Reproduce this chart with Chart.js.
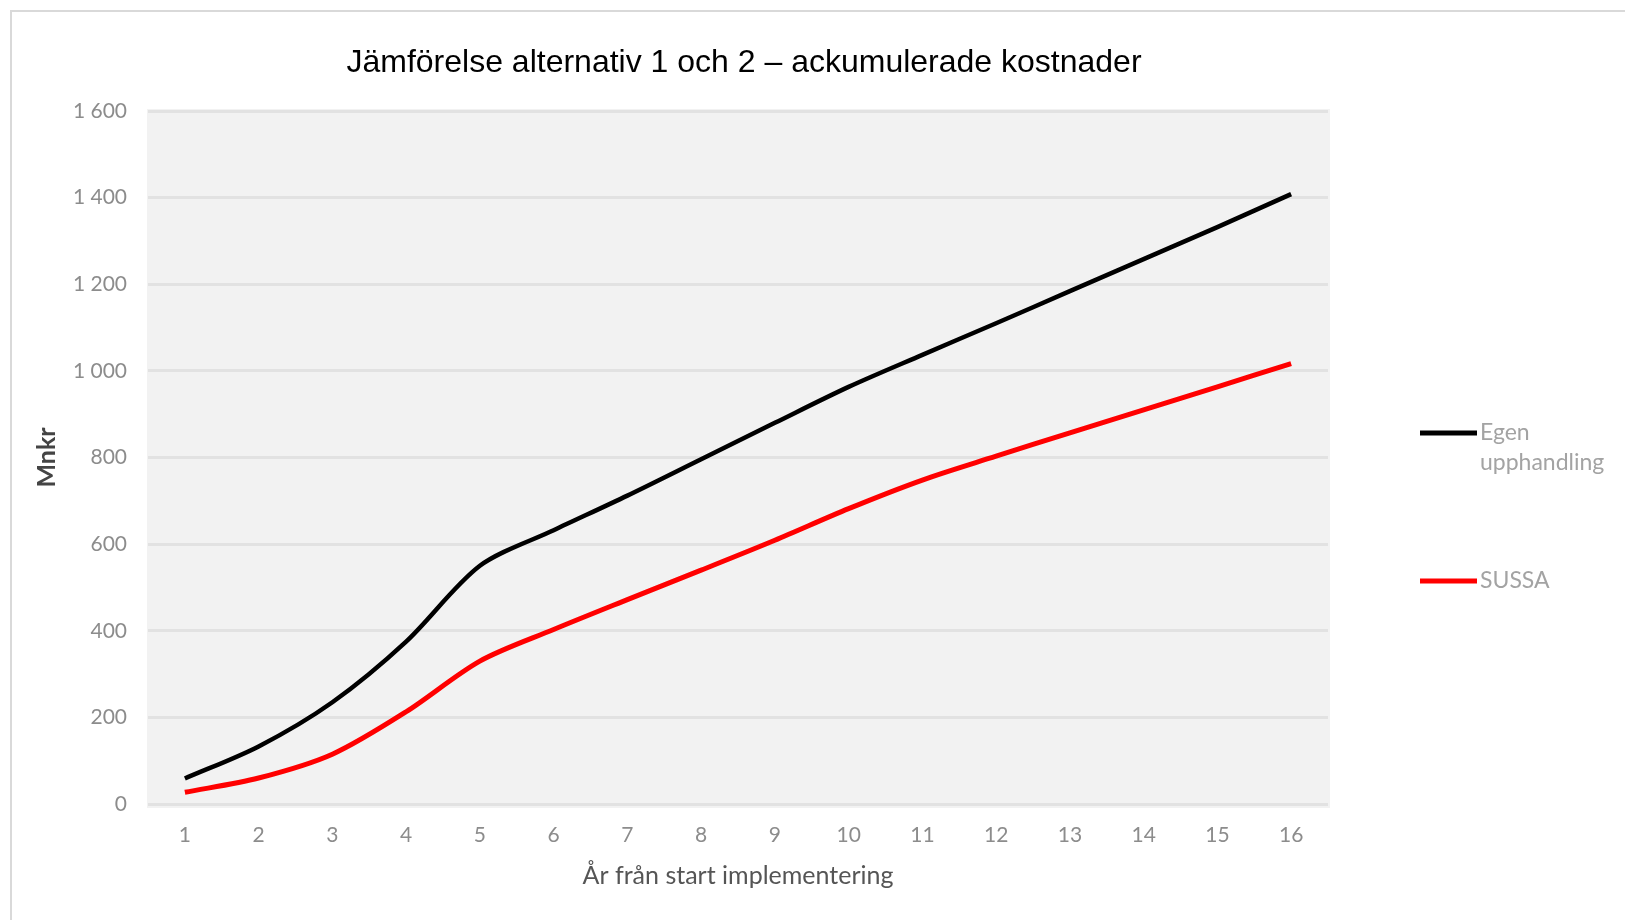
<!DOCTYPE html>
<html>
<head>
<meta charset="utf-8">
<script src="https://cdn.jsdelivr.net/npm/chart.js@4.4.1/dist/chart.umd.min.js"></script>
<style>
  html, body { margin: 0; padding: 0; background: #ffffff; }
  #wrap { position: relative; width: 1625px; height: 920px; }
  canvas { display: block; }
</style>
</head>
<body>
<div id="wrap"><canvas id="c" width="1625" height="920"></canvas></div>
<script>
const chartTitle = 'Jämförelse alternativ 1 och 2 – ackumulerade kostnader';
const xTitle = 'År från start implementering';
const yTitle = 'Mnkr';
const categories = ['1','2','3','4','5','6','7','8','9','10','11','12','13','14','15','16'];
const seriesNames = ['Egen upphandling', 'SUSSA'];
const egenUpphandling = [59, 133, 235, 375, 550, 632, 712, 796, 880, 963, 1037, 1110, 1184, 1258, 1332, 1408];
const sussa = [27, 60, 115, 213, 330, 403, 472, 540, 609, 682, 748, 803, 857, 910, 963, 1017];
const yMin = 0, yMax = 1600, yStep = 200;

const LAB = 'Lato, "Open Sans", sans-serif';

const decor = {
  id: 'decor',
  beforeDraw(chart) {
    const ctx = chart.ctx, a = chart.chartArea;
    ctx.save();
    ctx.strokeStyle = '#d9d9d9';
    ctx.lineWidth = 2;
    ctx.beginPath();
    ctx.moveTo(11, 940); ctx.lineTo(11, 11); ctx.lineTo(1640, 11);
    ctx.stroke();
    ctx.fillStyle = '#f2f2f2';
    ctx.fillRect(a.left - 1, a.top - 2, a.right - a.left + 3, a.bottom - a.top + 6);
    ctx.restore();
  },
  afterDraw(chart) {
    const ctx = chart.ctx;
    ctx.save();
    ctx.fillStyle = '#000000';
    ctx.font = '32px "Liberation Sans", Arial, sans-serif';
    ctx.textAlign = 'center';
    ctx.textBaseline = 'middle';
    ctx.fillText(chartTitle, 744, 63);
    const legendY = [433, 581];
    ctx.font = '23px ' + LAB;
    ctx.textAlign = 'left';
    chart.data.datasets.forEach((ds, i) => {
      const y = legendY[i];
      ctx.strokeStyle = ds.borderColor;
      ctx.lineWidth = 5;
      ctx.lineCap = 'butt';
      ctx.beginPath(); ctx.moveTo(1420, y); ctx.lineTo(1477, y); ctx.stroke();
      ctx.fillStyle = '#a3a3a3';
      const words = ds.label.split(' ');
      let lines = [], cur = '';
      words.forEach(w => {
        const t = cur ? cur + ' ' + w : w;
        if (ctx.measureText(t).width > 135 && cur) { lines.push(cur); cur = w; } else cur = t;
      });
      lines.push(cur);
      lines.forEach((ln, k) => ctx.fillText(ln, 1480, y + k * 30));
    });
    ctx.restore();
  }
};

new Chart(document.getElementById('c'), {
  type: 'line',
  data: {
    labels: categories,
    datasets: [
      { label: seriesNames[0], data: egenUpphandling, borderColor: '#000000', borderWidth: 4.5, tension: 0.3, pointRadius: 0, fill: false },
      { label: seriesNames[1], data: sussa, borderColor: '#ff0000', borderWidth: 5, tension: 0.3, pointRadius: 0, fill: false }
    ]
  },
  options: {
    responsive: false,
    animation: false,
    devicePixelRatio: 1,
    layout: { padding: { top: 111, right: 297, bottom: 0, left: 0 } },
    plugins: { legend: { display: false }, title: { display: false }, tooltip: { enabled: false } },
    scales: {
      x: {
        offset: true,
        grid: { display: false, drawTicks: false },
        border: { display: false },
        ticks: { color: '#8c8c8c', font: { family: LAB, size: 21 }, padding: 19 },
        title: { display: true, text: xTitle, color: '#555555', font: { family: LAB, size: 25 }, padding: { top: 0, bottom: 29 } },
        afterFit(s) { s.height = 116; }
      },
      y: {
        min: yMin, max: yMax,
        grid: { color: '#e2e2e2', lineWidth: 3, drawTicks: false },
        border: { display: false },
        ticks: {
          stepSize: yStep,
          color: '#8c8c8c', font: { family: LAB, size: 21 }, padding: 21,
          callback: v => String(v).replace(/\B(?=(\d{3})+(?!\d))/g, ' ')
        },
        title: { display: true, text: yTitle, color: '#444444', font: { family: LAB, size: 25, weight: 'bold' }, padding: { top: 32, bottom: 0 } },
        afterFit(s) { s.width = 148; }
      }
    }
  },
  plugins: [decor]
});
</script>
</body>
</html>
